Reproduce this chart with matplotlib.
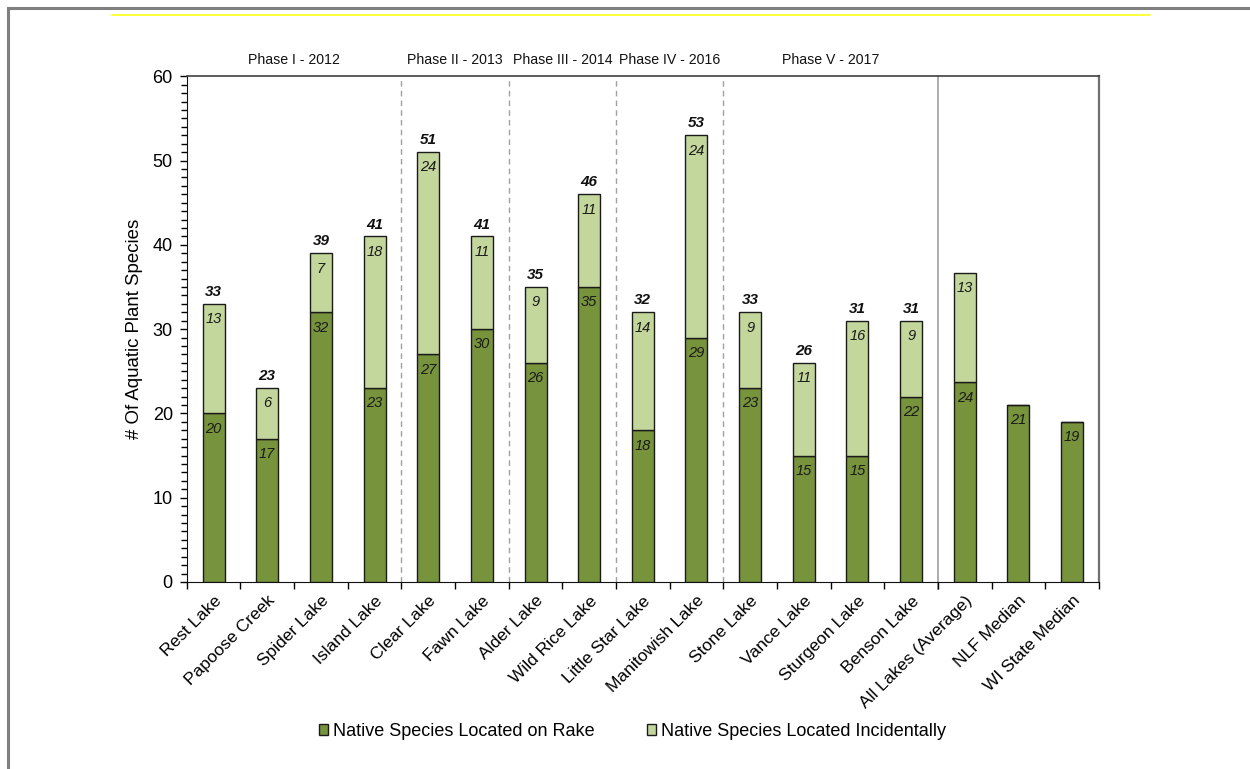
import matplotlib
matplotlib.use("Agg")
import matplotlib.pyplot as plt
from matplotlib.lines import Line2D
from matplotlib.ticker import MultipleLocator, FixedLocator
import numpy as np

# ---- data ----
lakes = ["Rest Lake", "Papoose Creek", "Spider Lake", "Island Lake", "Clear Lake",
         "Fawn Lake", "Alder Lake", "Wild Rice Lake", "Little Star Lake",
         "Manitowish Lake", "Stone Lake", "Vance Lake", "Sturgeon Lake",
         "Benson Lake", "All Lakes (Average)", "NLF Median", "WI State Median"]
on_rake = [20, 17, 32, 23, 27, 30, 26, 35, 18, 29, 23, 15, 15, 22, 23.7, 21, 19]
incidental = [13, 6, 7, 18, 24, 11, 9, 11, 14, 24, 9, 11, 16, 9, 13, 0, 0]
totals = [33, 23, 39, 41, 51, 41, 35, 46, 32, 53, 33, 26, 31, 31]

phase_labels = ["Phase I - 2012", "Phase II - 2013", "Phase III - 2014",
                "Phase IV - 2016", "Phase V - 2017"]
phase_bounds = [0, 4, 6, 8, 10, 14]   # category index where each phase starts/ends

dark_green = "#77933C"
light_green = "#C3D69B"
edge = "#1A1A1A"

plt.rcParams["font.family"] = ["Liberation Sans", "DejaVu Sans"]

fig = plt.figure(figsize=(12.5, 7.69), dpi=100)
ax = fig.add_axes([0.1494, 0.2432, 0.7297, 0.6576])

n = len(lakes)
x = np.arange(n)
w = 0.41
rake = np.array(on_rake, dtype=float)
inc = np.array(incidental, dtype=float)

ax.bar(x, rake, w, color=dark_green, edgecolor=edge, linewidth=1.0, zorder=3,
       label="Native Species Located on Rake")
ax.bar(x, inc, w, bottom=rake, color=light_green, edgecolor=edge, linewidth=1.0,
       zorder=3, label="Native Species Located Incidentally")

# segment value labels
for i in range(n):
    ax.annotate(f"{rake[i]:.0f}", (x[i], rake[i]), xytext=(0, -11),
                textcoords="offset points", ha="center", va="center",
                fontsize=10.5, style="italic", color="#1A1A1A", zorder=4)
    if inc[i] > 0:
        ax.annotate(f"{inc[i]:.0f}", (x[i], rake[i] + inc[i]), xytext=(0, -11),
                    textcoords="offset points", ha="center", va="center",
                    fontsize=10.5, style="italic", color="#1A1A1A", zorder=4)

# totals above the lake bars
for i, t in enumerate(totals):
    ax.annotate(f"{t}", (x[i], rake[i] + inc[i]), xytext=(0, 8.5),
                textcoords="offset points", ha="center", va="center",
                fontsize=11, style="italic", fontweight="bold", color="#111111")

ax.set_xlim(-0.5, n - 0.5)
ax.set_ylim(0, 60)

# phase separators
for b in phase_bounds[1:-1]:
    ax.axvline(b - 0.5, color="#A0A0A0", linestyle=(0, (4, 3)), linewidth=1.0,
               zorder=1)
ax.plot([phase_bounds[-1] - 0.5] * 2, [-0.8, 60], color="#A6A6A6",
        linewidth=1.3, zorder=1, clip_on=False)

# phase headings
for lab, a, b in zip(phase_labels, phase_bounds[:-1], phase_bounds[1:]):
    ax.text((a + b - 1) / 2, 61.9, lab, ha="center", va="center",
            fontsize=10.2, color="#111111")

# axes styling
ax.yaxis.set_major_locator(MultipleLocator(10))
ax.yaxis.set_minor_locator(MultipleLocator(1))
ax.tick_params(axis="y", which="major", length=5, width=1, labelsize=13, pad=5)
ax.tick_params(axis="y", which="minor", length=4, width=1)
ax.set_xticks(x)
ax.set_xticklabels(lakes, rotation=45, ha="right", rotation_mode="anchor",
                   fontsize=12.5)
ax.tick_params(axis="x", which="major", length=0, pad=8)
ax.xaxis.set_minor_locator(FixedLocator(np.arange(n + 1) - 0.5))
ax.tick_params(axis="x", which="minor", length=5, width=1)

ax.set_ylabel("# Of Aquatic Plant Species", fontsize=13.4, labelpad=7)

ax.spines["left"].set_color("#111111")
ax.spines["bottom"].set_color("#111111")
ax.spines["top"].set_color("#404040")
ax.spines["right"].set_color("#707070")
ax.spines["right"].set_linewidth(1.6)
ax.spines["top"].set_linewidth(1.2)

leg = fig.legend(loc="center", bbox_to_anchor=(0.506, 0.049), ncol=2,
                 frameon=False, fontsize=13, handlelength=0.5, handleheight=0.5,
                 handletextpad=0.3, columnspacing=2.9)

# outer frame and header rule
fig.add_artist(Line2D([8 / 1250, 8 / 1250], [0, 1 - 8 / 769], color="#808080",
                      linewidth=2.2, transform=fig.transFigure))
fig.add_artist(Line2D([8 / 1250, 1], [1 - 8 / 769, 1 - 8 / 769], color="#808080",
                      linewidth=2.2, transform=fig.transFigure))
fig.add_artist(Line2D([112 / 1250, 1150 / 1250], [1 - 15 / 769, 1 - 15 / 769],
                      color="#FFFF00", linewidth=1.1, transform=fig.transFigure))

fig.savefig("out.png", dpi=100, facecolor="white")
